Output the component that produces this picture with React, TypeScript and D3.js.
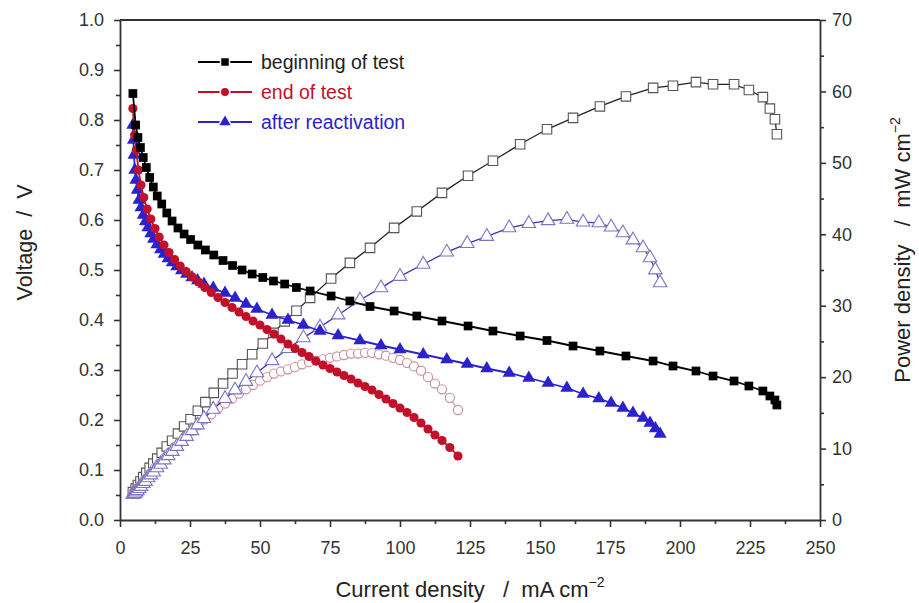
import React, { useEffect, useRef } from 'react';
import * as d3 from 'd3';

// beginning of test
const beginCurrent = [4.6, 5.6, 6.4, 7.3, 8.3, 9.4, 10.6, 11.9, 13.3, 14.9, 16.7, 18.6, 20.7, 22.9, 25.2, 27.8, 30.5, 33.5, 36.8, 40.2, 43.6, 47.2, 51, 54.8, 58.8, 63, 67.9, 75.4, 82.1, 89.3, 97.9, 106, 115, 124.3, 133.2, 142.9, 152.5, 161.8, 171.4, 180.7, 190.4, 197.5, 205.7, 211.8, 219.3, 224.6, 229.6, 232.1, 233.9, 234.6];
const beginVoltage = [0.853, 0.79, 0.765, 0.745, 0.725, 0.705, 0.685, 0.666, 0.648, 0.632, 0.614, 0.598, 0.584, 0.572, 0.561, 0.55, 0.54, 0.53, 0.519, 0.509, 0.5, 0.492, 0.485, 0.478, 0.472, 0.465, 0.458, 0.448, 0.438, 0.427, 0.418, 0.408, 0.398, 0.388, 0.378, 0.368, 0.359, 0.348, 0.338, 0.328, 0.318, 0.308, 0.298, 0.288, 0.278, 0.268, 0.258, 0.248, 0.24, 0.23];
const beginPower = [3.9, 4.4, 4.9, 5.4, 6.0, 6.6, 7.3, 7.9, 8.6, 9.4, 10.3, 11.1, 12.1, 13.1, 14.1, 15.3, 16.5, 17.8, 19.1, 20.5, 21.8, 23.2, 24.7, 26.2, 27.8, 29.3, 31.1, 33.8, 36.0, 38.1, 40.9, 43.2, 45.8, 48.2, 50.3, 52.6, 54.7, 56.3, 57.9, 59.3, 60.5, 60.8, 61.3, 61.0, 61.0, 60.2, 59.2, 57.6, 56.1, 54.0];

// end of test
const endCurrent = [4.6, 5.2, 5.8, 6.6, 7.5, 8.5, 9.7, 11, 12.5, 14, 15.7, 17.5, 19.5, 21.5, 23.6, 25.8, 28, 30.3, 32.6, 35, 37.5, 40, 42.5, 45, 47.5, 50, 52.5, 55, 57.5, 60, 62.5, 65, 67.5, 70, 72.5, 75, 77.5, 80, 82.5, 85, 87.5, 90, 92.5, 95, 97.5, 100, 102.5, 105, 107.5, 110, 112.5, 115, 117.8, 120.7];
const endVoltage = [0.823, 0.77, 0.74, 0.70, 0.67, 0.645, 0.622, 0.602, 0.583, 0.566, 0.55, 0.535, 0.521, 0.508, 0.497, 0.486, 0.476, 0.465, 0.455, 0.445, 0.435, 0.425, 0.416, 0.407, 0.398, 0.39, 0.381, 0.372, 0.362, 0.352, 0.343, 0.335, 0.327, 0.318, 0.31, 0.303, 0.296, 0.289, 0.282, 0.274, 0.267, 0.26, 0.251, 0.242, 0.233, 0.224, 0.215, 0.205, 0.194, 0.182, 0.17, 0.159, 0.145, 0.128];
const endPower = [3.8, 4.0, 4.3, 4.6, 5.0, 5.5, 6.0, 6.6, 7.3, 7.9, 8.6, 9.4, 10.2, 10.9, 11.7, 12.5, 13.3, 14.1, 14.8, 15.6, 16.3, 17.0, 17.7, 18.3, 18.9, 19.5, 20.0, 20.5, 20.8, 21.1, 21.4, 21.8, 22.1, 22.3, 22.5, 22.7, 22.9, 23.1, 23.3, 23.3, 23.4, 23.4, 23.2, 23.0, 22.7, 22.4, 22.0, 21.5, 20.9, 20.0, 19.1, 18.3, 17.1, 15.4];

// after reactivation
const reactCurrent = [4.6, 4.8, 5.0, 5.3, 5.7, 6.2, 6.8, 7.5, 8.3, 9.1, 10, 11, 12, 13.2, 14.5, 15.8, 17.2, 18.7, 20.3, 22, 23.8, 25.7, 27.7, 30, 33.3, 37.5, 41.1, 45, 48.9, 54.3, 60, 65.5, 71.4, 77.9, 85.7, 93.2, 100, 108.3, 116.7, 124, 131, 139, 146, 152.9, 159.6, 165.4, 171, 175.4, 179.6, 183.2, 186.8, 189.3, 191.2, 192.9];
const reactVoltage = [0.79, 0.76, 0.73, 0.70, 0.68, 0.66, 0.64, 0.625, 0.61, 0.597, 0.585, 0.573, 0.562, 0.551, 0.541, 0.532, 0.523, 0.515, 0.507, 0.499, 0.492, 0.485, 0.479, 0.472, 0.464, 0.454, 0.444, 0.432, 0.422, 0.41, 0.4, 0.39, 0.378, 0.369, 0.359, 0.349, 0.341, 0.331, 0.321, 0.312, 0.303, 0.294, 0.284, 0.274, 0.264, 0.252, 0.243, 0.234, 0.224, 0.214, 0.204, 0.194, 0.183, 0.172];
const reactPower = [3.6, 3.6, 3.7, 3.7, 3.9, 4.1, 4.4, 4.7, 5.1, 5.4, 5.9, 6.3, 6.7, 7.3, 7.8, 8.4, 9.0, 9.6, 10.3, 11.0, 11.7, 12.5, 13.3, 14.2, 15.5, 17.0, 18.2, 19.4, 20.6, 22.3, 24.0, 25.5, 27.0, 28.7, 30.8, 32.5, 34.1, 35.8, 37.5, 38.7, 39.7, 40.9, 41.5, 41.9, 42.1, 41.7, 41.6, 41.0, 40.2, 39.2, 38.1, 36.7, 35.0, 33.2];

const xTicks = [0, 25, 50, 75, 100, 125, 150, 175, 200, 225, 250];
const voltageTicks = [0, 0.1, 0.2, 0.3, 0.4, 0.5, 0.6, 0.7, 0.8, 0.9, 1.0];
const powerTicks = [0, 10, 20, 30, 40, 50, 60, 70];
const legendLabels = ['beginning of test', 'end of test', 'after reactivation'];

const FONT = 'Liberation Sans, Arial, sans-serif';
const SP = '\u00a0';

const App = () => {
  const ref = useRef<SVGSVGElement>(null);

  useEffect(() => {
    document.body.style.margin = '0';
    const width = 919;
    const height = 603;
    const margin = { top: 20, right: 99, bottom: 83, left: 120 };

    const x = d3.scaleLinear().domain([0, 250]).range([margin.left, width - margin.right]);
    const yV = d3.scaleLinear().domain([0, 1]).range([height - margin.bottom, margin.top]);
    const yP = d3.scaleLinear().domain([0, 70]).range([height - margin.bottom, margin.top]);

    const svg = d3.select(ref.current);
    svg.selectAll('*').remove();
    svg.append('rect').attr('width', width).attr('height', height).attr('fill', '#fff');

    const axisColor = '#333';
    const styleAxis = (g: any) => {
      g.selectAll('path.domain').attr('stroke', axisColor).attr('stroke-width', 1.8);
      g.selectAll('line').attr('stroke', axisColor).attr('stroke-width', 1.6);
      g.selectAll('text').attr('fill', '#333').attr('font-size', 18).attr('font-family', FONT);
    };

    const minorX = d3.range(12.5, 250, 25);
    const minorV = d3.range(0.05, 1, 0.1);
    const minorP = d3.range(5, 70, 10);

    // bottom axis
    svg.append('g')
      .attr('transform', `translate(0,${yV(0)})`)
      .call(d3.axisBottom(x).tickValues(minorX).tickSize(4).tickFormat(() => ''))
      .call(g => g.select('.domain').remove())
      .call(styleAxis);
    svg.append('g')
      .attr('transform', `translate(0,${yV(0)})`)
      .call(d3.axisBottom(x).tickValues(xTicks).tickSize(7).tickPadding(14).tickSizeOuter(0).tickFormat(d3.format('d')))
      .call(styleAxis);

    // left axis
    svg.append('g')
      .attr('transform', `translate(${x(0)},0)`)
      .call(d3.axisLeft(yV).tickValues(minorV).tickSize(4).tickFormat(() => ''))
      .call(g => g.select('.domain').remove())
      .call(styleAxis);
    svg.append('g')
      .attr('transform', `translate(${x(0)},0)`)
      .call(d3.axisLeft(yV).tickValues(voltageTicks).tickSize(6).tickPadding(10).tickSizeOuter(0).tickFormat(d3.format('.1f')))
      .call(styleAxis);

    // right axis
    svg.append('g')
      .attr('transform', `translate(${x(250)},0)`)
      .call(d3.axisRight(yP).tickValues(minorP).tickSize(4).tickFormat(() => ''))
      .call(g => g.select('.domain').remove())
      .call(styleAxis);
    svg.append('g')
      .attr('transform', `translate(${x(250)},0)`)
      .call(d3.axisRight(yP).tickValues(powerTicks).tickSize(6).tickPadding(6).tickSizeOuter(0).tickFormat(d3.format('d')))
      .call(styleAxis);

    // top frame
    svg.append('line')
      .attr('x1', x(0)).attr('x2', x(250))
      .attr('y1', yV(1)).attr('y2', yV(1))
      .attr('stroke', axisColor).attr('stroke-width', 1.8);

    const series = [
      { name: legendLabels[0], I: beginCurrent, V: beginVoltage, P: beginPower, color: '#000', open: '#555', openLine: '#222', symbol: d3.symbolSquare, size: 76, pSize: 90, lSize: 56 },
      { name: legendLabels[1], I: endCurrent, V: endVoltage, P: endPower, color: '#c2102a', open: '#c98f96', openLine: '#d9a0a6', symbol: d3.symbolCircle, size: 66, pSize: 66, lSize: 50 },
      { name: legendLabels[2], I: reactCurrent, V: reactVoltage, P: reactPower, color: '#2b22cc', open: '#7a74c4', openLine: '#3a33a8', symbol: d3.symbolTriangle, size: 74, pSize: 80, lSize: 56 },
    ];

    // power curves (open markers)
    series.forEach(s => {
      const pts = s.I.map((c, i) => [x(c), yP(s.P[i])] as [number, number]);
      svg.append('path')
        .attr('d', d3.line()(pts))
        .attr('fill', 'none')
        .attr('stroke', s.openLine)
        .attr('stroke-width', 1.3);
      svg.append('g')
        .selectAll('path')
        .data(pts)
        .join('path')
        .attr('transform', d => `translate(${d[0]},${d[1]})`)
        .attr('d', d3.symbol().type(s.symbol).size(s.pSize)())
        .attr('fill', '#fff')
        .attr('stroke', s.open)
        .attr('stroke-width', 1.1);
    });

    // voltage curves (filled markers), drawn blue, red, black
    [series[2], series[1], series[0]].forEach(s => {
      const pts = s.I.map((c, i) => [x(c), yV(s.V[i])] as [number, number]);
      svg.append('path')
        .attr('d', d3.line()(pts))
        .attr('fill', 'none')
        .attr('stroke', s.color)
        .attr('stroke-width', 1.8);
      svg.append('g')
        .selectAll('path')
        .data(pts)
        .join('path')
        .attr('transform', d => `translate(${d[0]},${d[1]})`)
        .attr('d', d3.symbol().type(s.symbol).size(s.size)())
        .attr('fill', s.color);
    });

    // legend
    const legend = svg.append('g');
    series.forEach((s, i) => {
      const ly = 62 + i * 30;
      legend.append('line')
        .attr('x1', 198).attr('x2', 252)
        .attr('y1', ly).attr('y2', ly)
        .attr('stroke', s.color).attr('stroke-width', 2);
      legend.append('path')
        .attr('transform', `translate(225,${ly})`)
        .attr('d', d3.symbol().type(s.symbol).size(s.lSize)())
        .attr('fill', s.color)
        .attr('stroke', '#fff')
        .attr('stroke-width', 3)
        .attr('paint-order', 'stroke');
      legend.append('text')
        .attr('x', 261).attr('y', ly)
        .attr('dy', '0.35em')
        .attr('font-size', 19.5)
        .attr('font-family', FONT)
        .attr('fill', i === 0 ? '#222' : s.color)
        .text(s.name);
    });

    // axis titles
    const xTitle = svg.append('text')
      .attr('x', 470)
      .attr('y', 597)
      .attr('text-anchor', 'middle')
      .attr('font-size', 22)
      .attr('font-family', FONT)
      .attr('fill', '#222');
    xTitle.append('tspan').text(`Current density${SP}${SP}${SP}/${SP}${SP}mA cm`);
    xTitle.append('tspan').attr('dy', -10).attr('font-size', 14).text('−2');

    svg.append('text')
      .attr('transform', `translate(32,${yV(0.555)}) rotate(-90)`)
      .attr('text-anchor', 'middle')
      .attr('font-size', 21.5)
      .attr('font-family', FONT)
      .attr('fill', '#222')
      .text(`Voltage${SP}${SP}/${SP}${SP}V`);

    const pTitle = svg.append('text')
      .attr('transform', `translate(910,${yV(0.54)}) rotate(-90)`)
      .attr('text-anchor', 'middle')
      .attr('font-size', 22)
      .attr('font-family', FONT)
      .attr('fill', '#222');
    pTitle.append('tspan').text(`Power density${SP}${SP}${SP}/${SP}${SP}mW cm`);
    pTitle.append('tspan').attr('dy', -10).attr('font-size', 14).text('−2');
  }, []);

  return <svg ref={ref} width={919} height={603} style={{ display: 'block' }} />;
};

export default App;
